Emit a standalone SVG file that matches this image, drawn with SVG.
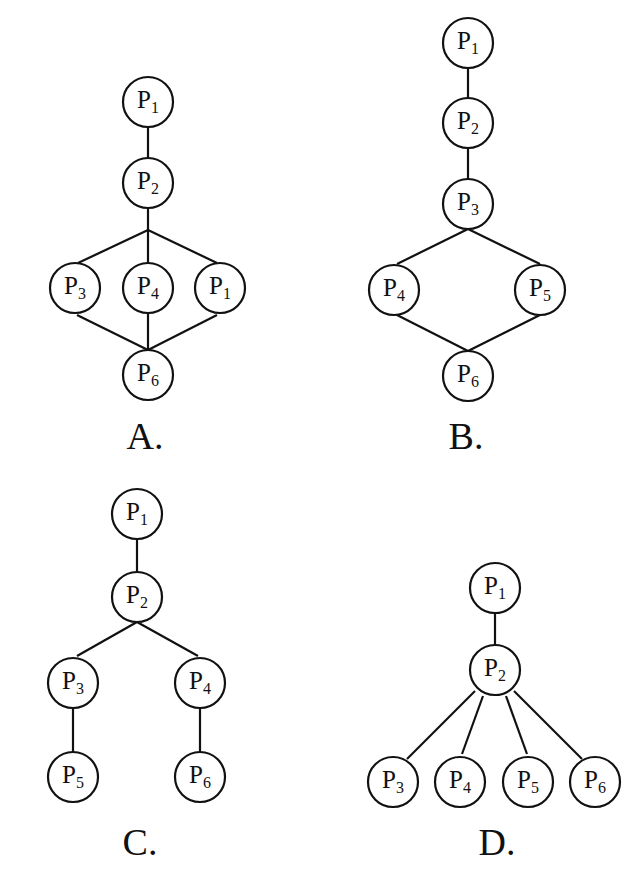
<svg xmlns="http://www.w3.org/2000/svg" width="637" height="875" viewBox="0 0 637 875">
<style>
.n circle{fill:#fff;stroke:#111;stroke-width:2.2}
.n text{font-family:"Liberation Serif","Times New Roman",serif;font-size:25px;fill:#111;text-anchor:middle}
.s{font-size:16px}
.e line{stroke:#111;stroke-width:2.2}
.lab{font-family:"Liberation Serif","Times New Roman",serif;font-size:38px;fill:#111;text-anchor:middle}
</style>
<rect width="637" height="875" fill="#fff"/>
<g class="e" id="connectors">
<!-- A -->
<line x1="148" y1="127" x2="148" y2="159"/>
<line x1="148" y1="208" x2="148" y2="263"/>
<line x1="148" y1="230" x2="78" y2="263"/>
<line x1="148" y1="230" x2="217" y2="263"/>
<line x1="148" y1="313" x2="148" y2="350"/>
<line x1="77" y1="315" x2="148" y2="350"/>
<line x1="217" y1="315" x2="148" y2="350"/>
<!-- B -->
<line x1="468" y1="68" x2="468" y2="99"/>
<line x1="468" y1="148" x2="468" y2="179"/>
<line x1="468" y1="229" x2="397" y2="264"/>
<line x1="468" y1="229" x2="540" y2="264"/>
<line x1="397" y1="315" x2="468" y2="351"/>
<line x1="540" y1="315" x2="468" y2="351"/>
<!-- C -->
<line x1="137" y1="539" x2="137" y2="572"/>
<line x1="137" y1="622" x2="77" y2="656"/>
<line x1="137" y1="622" x2="198" y2="656"/>
<line x1="73" y1="708" x2="73" y2="752"/>
<line x1="200" y1="708" x2="200" y2="752"/>
<!-- D -->
<line x1="495" y1="613" x2="495" y2="645"/>
<line x1="475" y1="691" x2="407" y2="759"/>
<line x1="483" y1="696" x2="462" y2="754"/>
<line x1="506" y1="696" x2="527" y2="754"/>
<line x1="514" y1="691" x2="582" y2="759"/>
</g>
<!-- A nodes -->
<g class="n" id="A_P1"><circle cx="148" cy="102" r="25"/><text x="148" y="108">P<tspan class="s" dy="5">1</tspan></text></g>
<g class="n" id="A_P2"><circle cx="148" cy="183" r="25"/><text x="148" y="189">P<tspan class="s" dy="5">2</tspan></text></g>
<g class="n" id="A_P3"><circle cx="75" cy="288" r="25"/><text x="75" y="294">P<tspan class="s" dy="5">3</tspan></text></g>
<g class="n" id="A_P4"><circle cx="148" cy="288" r="25"/><text x="148" y="294">P<tspan class="s" dy="5">4</tspan></text></g>
<g class="n" id="A_P1b"><circle cx="220" cy="288" r="25"/><text x="220" y="294">P<tspan class="s" dy="5">1</tspan></text></g>
<g class="n" id="A_P6"><circle cx="148" cy="375" r="25"/><text x="148" y="381">P<tspan class="s" dy="5">6</tspan></text></g>
<text class="lab" x="145" y="449">A.</text>
<!-- B nodes -->
<g class="n" id="B_P1"><circle cx="468" cy="43" r="25"/><text x="468" y="49">P<tspan class="s" dy="5">1</tspan></text></g>
<g class="n" id="B_P2"><circle cx="468" cy="123" r="25"/><text x="468" y="129">P<tspan class="s" dy="5">2</tspan></text></g>
<g class="n" id="B_P3"><circle cx="468" cy="204" r="25"/><text x="468" y="210">P<tspan class="s" dy="5">3</tspan></text></g>
<g class="n" id="B_P4"><circle cx="394" cy="290" r="25"/><text x="394" y="296">P<tspan class="s" dy="5">4</tspan></text></g>
<g class="n" id="B_P5"><circle cx="540" cy="290" r="25"/><text x="540" y="296">P<tspan class="s" dy="5">5</tspan></text></g>
<g class="n" id="B_P6"><circle cx="468" cy="376" r="25"/><text x="468" y="382">P<tspan class="s" dy="5">6</tspan></text></g>
<text class="lab" x="466" y="449">B.</text>
<!-- C nodes -->
<g class="n" id="C_P1"><circle cx="137" cy="514" r="25"/><text x="137" y="520">P<tspan class="s" dy="5">1</tspan></text></g>
<g class="n" id="C_P2"><circle cx="137" cy="597" r="25"/><text x="137" y="603">P<tspan class="s" dy="5">2</tspan></text></g>
<g class="n" id="C_P3"><circle cx="73" cy="683" r="25"/><text x="73" y="689">P<tspan class="s" dy="5">3</tspan></text></g>
<g class="n" id="C_P4"><circle cx="200" cy="683" r="25"/><text x="200" y="689">P<tspan class="s" dy="5">4</tspan></text></g>
<g class="n" id="C_P5"><circle cx="73" cy="777" r="25"/><text x="73" y="783">P<tspan class="s" dy="5">5</tspan></text></g>
<g class="n" id="C_P6"><circle cx="200" cy="777" r="25"/><text x="200" y="783">P<tspan class="s" dy="5">6</tspan></text></g>
<text class="lab" x="140" y="855">C.</text>
<!-- D nodes -->
<g class="n" id="D_P1"><circle cx="495" cy="588" r="25"/><text x="495" y="594">P<tspan class="s" dy="5">1</tspan></text></g>
<g class="n" id="D_P2"><circle cx="495" cy="670" r="25"/><text x="495" y="676">P<tspan class="s" dy="5">2</tspan></text></g>
<g class="n" id="D_P3"><circle cx="393" cy="782" r="25"/><text x="393" y="788">P<tspan class="s" dy="5">3</tspan></text></g>
<g class="n" id="D_P4"><circle cx="460" cy="782" r="25"/><text x="460" y="788">P<tspan class="s" dy="5">4</tspan></text></g>
<g class="n" id="D_P5"><circle cx="528" cy="782" r="25"/><text x="528" y="788">P<tspan class="s" dy="5">5</tspan></text></g>
<g class="n" id="D_P6"><circle cx="595" cy="782" r="25"/><text x="595" y="788">P<tspan class="s" dy="5">6</tspan></text></g>
<text class="lab" x="497" y="855">D.</text>
</svg>
